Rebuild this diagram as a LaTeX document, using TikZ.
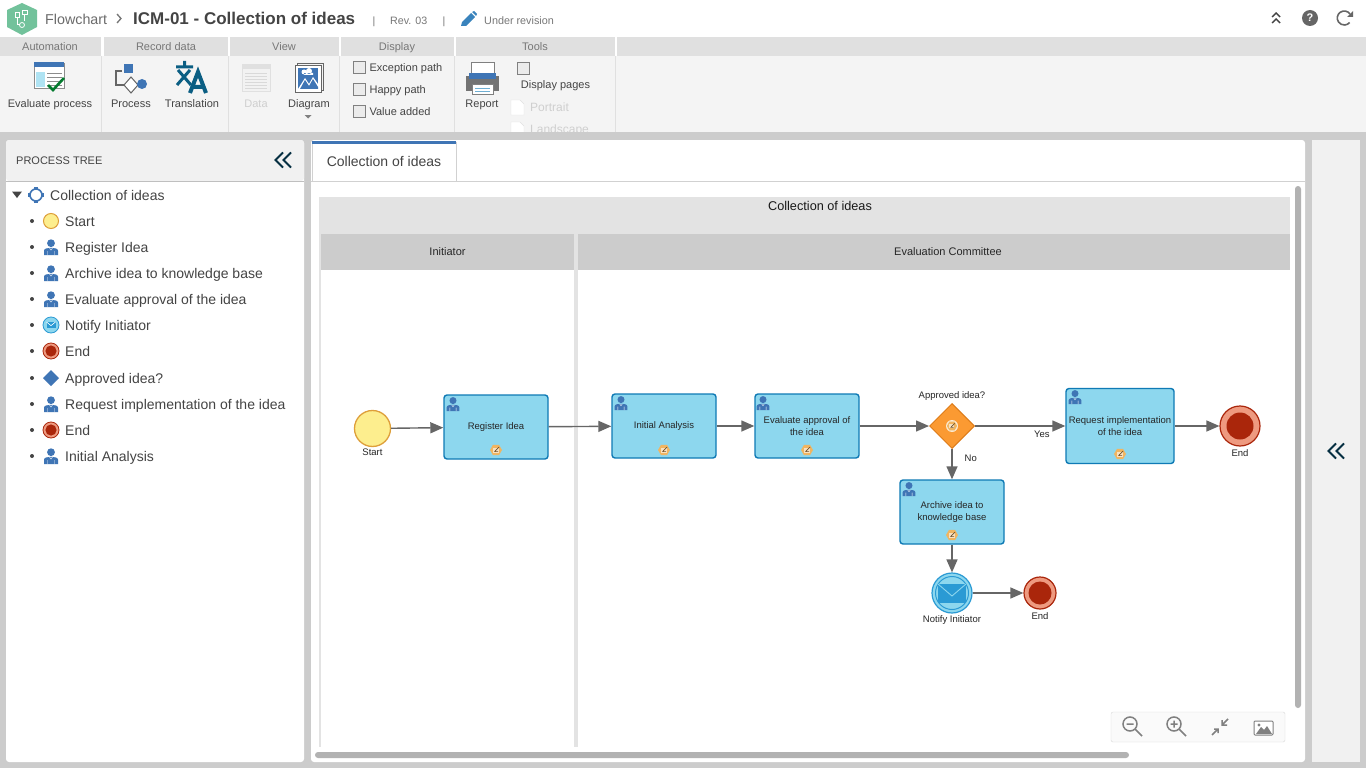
\documentclass[tikz,border=0pt]{standalone}
\usepackage{fontspec}
\setmainfont{Liberation Sans}
\usetikzlibrary{arrows.meta,positioning,shapes.geometric}
\definecolor{pagegrey}{HTML}{CCCCCC}
\definecolor{stripgrey}{HTML}{E0E0E0}
\definecolor{ribbongrey}{HTML}{F4F4F4}
\definecolor{panelgrey}{HTML}{F1F1F1}
\definecolor{poolgrey}{HTML}{E3E3E3}
\definecolor{inktext}{HTML}{444444}
\definecolor{fadetext}{HTML}{777777}
\definecolor{mutetext}{HTML}{CFCFCF}
\definecolor{iconblue}{HTML}{3F75B5}
\definecolor{teal}{HTML}{0B5E83}
\definecolor{taskfill}{HTML}{8DD7EE}
\definecolor{taskline}{HTML}{0F7AB5}
\definecolor{mailblue}{HTML}{2A9AD4}
\definecolor{startfill}{HTML}{FDEE8E}
\definecolor{startline}{HTML}{DE9F3A}
\definecolor{endring}{HTML}{EE9A80}
\definecolor{endcore}{HTML}{AA260B}
\definecolor{gatefill}{HTML}{FB9A32}
\definecolor{gateline}{HTML}{DE7C18}
\definecolor{notefill}{HTML}{F0B561}
\definecolor{flowgrey}{HTML}{666666}
\definecolor{hexgreen}{HTML}{72C29B}
\begin{document}
\begin{tikzpicture}[
        x=1pt, y=-1pt,
        lbl/.style = {inner sep=0pt, text=inktext, yshift=-#1*0.19pt, font=\fontsize{#1}{#1}\selectfont, execute at begin node=\strut},
        flowtext/.style = {inner sep=0pt, align=center, text=black!85, font=\fontsize{9.5}{12}\selectfont},
        task/.style = {rectangle, rounded corners=3pt, draw=taskline, fill=taskfill, line width=1.4pt, inner sep=0pt, align=center, text=black!85, font=\fontsize{9.5}{12}\selectfont},
        startev/.style = {circle, draw=startline, fill=startfill, line width=1.3pt, inner sep=0pt},
        endev/.style = {circle, draw=endcore, fill=endring, line width=1.2pt, inner sep=0pt},
        enddot/.style = {circle, fill=endcore, inner sep=0pt},
        gate/.style = {diamond, draw=gateline, fill=gatefill, line width=1pt, inner sep=0pt, minimum width=45pt, minimum height=45pt},
        flow/.style = {draw=flowgrey, line width=1.4pt, -{Triangle[length=13pt,width=11pt]}},
        chkbox/.style = {draw=black!50, fill=black!8, inner sep=0pt, minimum size=12pt, line width=.8pt},
        pics/personmark/.style = {code={
            \fill[iconblue] (0,-3.8) circle[radius=3.9];
            \fill[iconblue] (-7,8) -- (-7,3.5) .. controls (-7,1.5) and (-3,.8) .. (0,.8) .. controls (3,.8) and (7,1.5) .. (7,3.5) -- (7,8) -- cycle;
            \draw[white,line width=.4pt] (-3.5,4) -- (-3.5,8) (3.5,4) -- (3.5,8) (-1.5,1) -- (0,3) -- (1.5,1);
        }},
        pics/notemark/.style = {code={
            \fill[notefill] (6,0) -- (3,-5.2) -- (-3,-5.2) -- (-6,0) -- (-3,5.2) -- (3,5.2) -- cycle;
            \fill[white!60!notefill] (-3.2,-2.2) rectangle (2.6,2.6);
            \draw[black!55!notefill,line width=.7pt] (-1,1) -- (3.2,-3) (-2,1.6) -- (2,1.6);
        }},
        pics/startmark/.style = {code={\draw[startline,fill=startfill,line width=1pt] (0,0) circle[radius=7.5];}},
        pics/endmark/.style = {code={
            \draw[endcore,fill=endring,line width=.8pt] (0,0) circle[radius=8];
            \fill[endcore] (0,0) circle[radius=5.6];
        }},
        pics/mailmark/.style = {code={
            \draw[mailblue,fill=taskfill,line width=.8pt] (0,0) circle[radius=8];
            \fill[mailblue] (-4.5,-3) rectangle (4.5,3);
            \draw[white,line width=.6pt] (-4.5,-3) -- (0,.6) -- (4.5,-3);
        }},
        pics/gatemark/.style = {code={\fill[iconblue] (8,0) -- (0,8) -- (-8,0) -- (0,-8) -- cycle;}},
        pics/chevrons/.style = {code={
            \draw[#1,line width=2pt] (-.5,-7.5) -- (-8,0) -- (-.5,7.5) (7.5,-7.5) -- (0,0) -- (7.5,7.5);
        }},
    ]
        % page frame
        \useasboundingbox (0,0) rectangle (1366,768);
        \fill[pagegrey] (0,0) rectangle (1366,768);
        \fill[white] (0,0) rectangle (1366,37);
        \fill[ribbongrey] (0,37) rectangle (1366,132);
        \fill[white] (0,37) rectangle (1366,56);

        % title bar
        \fill[hexgreen] (22,3) -- (37,10) -- (37,27) -- (22,35) -- (7,27) -- (7,10) -- cycle;
        \draw[white,line width=.8pt] (15,12) rectangle (19,17) (22,10) rectangle (27,14) (24,14) -- (24,21) (17,17) -- (17,24) -- (20,24);
        \draw[white,line width=.8pt] (22,25) circle[radius=2.5];
        \node[lbl=14.3,anchor=west,text=fadetext!90!black] (crumb) at (45,19) {Flowchart};
        \draw[fadetext,line width=1.3pt] (117,14) -- (121,18.5) -- (117,23);
        \node[lbl=17,anchor=west,font=\fontsize{17}{17}\bfseries\selectfont] (doctitle) at (133,18) {ICM-01 - Collection of ideas};
        \node[lbl=10.5,text=fadetext] (barone) at (374,20) {|};
        \node[lbl=10.7,text=fadetext,anchor=west] (revno) at (390,20) {Rev. 03};
        \node[lbl=10.5,text=fadetext] (bartwo) at (444,20) {|};
        \fill[iconblue!90!cyan] (461,26) -- (462,22) -- (471,13) -- (475,17) -- (466,26) -- cycle (472,12) -- (474,11) -- (477,14) -- (476,16) -- cycle;
        \node[lbl=10.8,text=fadetext,anchor=west] (status) at (484,20) {Under revision};
        \draw[inktext,line width=1.4pt] (1272,17) -- (1276,13) -- (1280,17) (1272,23) -- (1276,19) -- (1280,23);
        \node[circle,fill=black!60,inner sep=0pt,minimum size=16pt,text=white,font=\fontsize{11}{11}\bfseries\selectfont] (helpdot) at (1310,18) {?};
        \draw[black!60,line width=1.6pt] (1350,14) arc[start angle=-35,end angle=-320,radius=7];
        \fill[black!60] (1347,17) -- (1353,17) -- (1353,11) -- cycle;

        % ribbon strips
        \foreach \xa/\xb/\xc/\cap [count=\n] in {0/101/50/Automation, 104/228/166/Record data, 230/339/284/View, 341/454/397/Display, 456/615/535/Tools} {
            \fill[stripgrey] (\xa,37) rectangle (\xb,56);
            \draw[black!12] (\xb,56) -- (\xb,132);
            \node[lbl=11,text=fadetext] (strip\n) at (\xc,46) {\cap};
        }
        \fill[stripgrey] (617,37) rectangle (1366,56);

        % ribbon icons
        \draw[black!45,fill=white] (34,63) rectangle (64,88);
        \fill[iconblue] (34,62) rectangle (64,67);
        \fill[taskfill!70] (36,72) rectangle (45,87);
        \foreach \yy in {73,77,81,85} \draw[black!45] (47,\yy) -- (62,\yy);
        \draw[teal!50!green!70!black,line width=2.6pt] (48,85) -- (53,90) -- (64,78);
        \draw[black!60,line width=2pt] (122,71) -- (116,71) -- (116,85) -- (124,85);
        \fill[iconblue] (124,64) rectangle (133,73);
        \draw[black!60,fill=white,line width=1pt] (124,85) -- (131,77) -- (138,85) -- (131,93) -- cycle;
        \fill[iconblue] (142,84) circle[radius=5];
        \draw[teal,line width=3pt] (176,67) -- (193,67) (184.5,61) -- (184.5,67) (178,70) -- (191,85) (190,70) -- (177,85);
        \draw[teal,line width=4pt] (190,93) -- (198,72) -- (206,93) (193,87) -- (203,87);
        \draw[black!12,fill=black!5] (242,64) rectangle (270,91);
        \fill[black!12] (242,64) rectangle (270,69);
        \foreach \yy in {73,76,79,82,85,88} \draw[black!15] (245,\yy) -- (267,\yy);
        \draw[black!60] (297,63) rectangle (323,90);
        \draw[black!60,fill=white] (295,65) rectangle (321,92);
        \fill[iconblue] (298,68) rectangle (318,89);
        \fill[white] (298,89) -- (305,78) -- (309,84) -- (313,77) -- (318,84) -- (318,89) -- cycle;
        \fill[iconblue] (300,89) -- (305,80) -- (309,86) -- (313,79) -- (318,87) -- (318,89) -- cycle;
        \fill[white] (304,72) circle[radius=2.5] (309,71) circle[radius=3] (304,73) rectangle (313,75);
        \fill[black!55] (466,76) rectangle (499,91);
        \draw[black!50,fill=white,line width=1pt] (471,63) rectangle (494,76);
        \fill[iconblue] (469,73) rectangle (496,79);
        \draw[black!50,fill=white,line width=1pt] (472,85) rectangle (493,95);
        \draw[taskline!60] (475,88) -- (490,88) (475,91) -- (490,91);
        \fill[black!50] (304.5,115) -- (311.5,115) -- (308,118.5) -- cycle;
        \draw[black!12,fill=white] (511,100) -- (520,100) -- (524,104) -- (524,115) -- (511,115) -- cycle;
        \draw[black!12,fill=white] (511,122) -- (520,122) -- (524,126) -- (524,137) -- (511,137) -- cycle;

        % ribbon captions
        \node[lbl=11] (capeval) at (50,103) {Evaluate process};
        \node[lbl=11] (capproc) at (131,103) {Process};
        \node[lbl=11] (captrans) at (192,103) {Translation};
        \node[lbl=11,text=mutetext] (capdata) at (256,103) {Data};
        \node[lbl=11] (capdiag) at (309,103) {Diagram};
        \node[lbl=11] (capreport) at (482,103) {Report};
        \foreach \yy/\cap [count=\n] in {67/Exception path, 89/Happy path, 111/Value added} {
            \node[chkbox] (chk\n) at (359,\yy) {};
            \node[lbl=11,anchor=west,right=4pt of chk\n] (chklbl\n) {\cap};
        }
        \node[chkbox] (chkpages) at (523,68) {};
        \node[lbl=11] (cappages) at (555.5,84) {Display pages};
        \node[lbl=12,text=mutetext,anchor=west] (capport) at (530,107) {Portrait};
        \node[lbl=12,text=mutetext,anchor=west] (capland) at (530,129) {Landscape};
        \fill[pagegrey] (0,132) rectangle (1366,140);

        % process tree panel
        \fill[white,rounded corners=3pt] (6,140) rectangle (304,762);
        \fill[panelgrey,rounded corners=3pt] (6,140) -- (6,181) -- (304,181) -- (304,140) -- cycle;
        \draw[black!25] (6,181) -- (304,181);
        \node[lbl=11,anchor=west] (treehead) at (16,160) {PROCESS TREE};
        \pic at (283.5,160) {chevrons={teal!50!black}};
        \fill[inktext] (12,191.5) -- (22,191.5) -- (17,198) -- cycle;
        \draw[iconblue,line width=1.6pt] (36,195) circle[radius=6];
        \foreach \xx/\yy in {36/188.5,36/201.5,29.5/195,42.5/195} \fill[iconblue] (\xx-1.8,\yy-1.8) rectangle (\xx+1.8,\yy+1.8);
        \node[lbl=14,anchor=west] (treeroot) at (50,195) {Collection of ideas};
        \foreach \yy/\txt/\ic [count=\n] in {221/Start/startmark, 247/Register Idea/personmark, 273/Archive idea to knowledge base/personmark, 299/Evaluate approval of the idea/personmark, 325/Notify Initiator/mailmark, 351/End/endmark, 378/Approved idea?/gatemark, 404/Request implementation of the idea/personmark, 430/End/endmark, 456/Initial Analysis/personmark} {
            \fill[inktext] (32,\yy) circle[radius=2];
            \pic at (51,\yy) {\ic};
            \node[lbl=14,anchor=west] (treerow\n) at (65,\yy) {\txt};
        }

        % main panel
        \fill[white,rounded corners=3pt] (311,140) rectangle (1305,762);
        \draw[black!18] (311,181) -- (1305,181);
        \draw[black!18,fill=white] (312,181) -- (312,142) -- (456,142) -- (456,181);
        \fill[iconblue] (312,141) rectangle (456,144);
        \node[lbl=14] (tabcap) at (384,161) {Collection of ideas};
        \fill[panelgrey] (1312,140) rectangle (1360,762);
        \pic at (1336.5,451) {chevrons={teal!50!black}};

        % pool and lanes
        \fill[poolgrey] (319,197) rectangle (1290,234);
        \fill[poolgrey] (319,234) rectangle (321,747);
        \fill[poolgrey] (574,234) rectangle (578,747);
        \fill[pagegrey] (321,234) rectangle (574,270);
        \fill[pagegrey] (578,234) rectangle (1290,270);
        \node[lbl=12.7,text=black!90] (pooltitle) at (820,205) {Collection of ideas};
        \node[lbl=11,text=black!85] (laneinit) at (447.5,251) {Initiator};
        \node[lbl=11,text=black!85] (lanecomm) at (948,251) {Evaluation Committee};
        \fill[black!30,rounded corners=3pt] (1295,186) rectangle (1301,708);
        \fill[black!30,rounded corners=3pt] (315,752) rectangle (1129,758);

        % flow nodes
        \node[startev,minimum size=36pt] (startnode) at (372.5,428.5) {};
        \node[task,minimum width=104pt,minimum height=64pt] (regtask) at (496,427) {Register Idea};
        \node[task,minimum width=104pt,minimum height=64pt] (inittask) at (664,426) {Initial Analysis};
        \node[task,minimum width=104pt,minimum height=64pt] (evaltask) at (807,426) {Evaluate approval of\\the idea};
        \node[gate] (approvegate) at (952,426) {};
        \node[task,minimum width=108pt,minimum height=75pt] (reqtask) at (1120,426) {Request implementation\\of the idea};
        \node[endev,minimum size=40pt] (endone) at (1240,426) {};
        \node[enddot,minimum size=27pt] (endonedot) at (endone) {};
        \node[task,minimum width=104pt,minimum height=64pt] (archtask) at (952,512) {Archive idea to\\knowledge base};
        \node[circle,draw=mailblue,fill=taskfill,line width=1.2pt,inner sep=0pt,minimum size=40pt] (notifynode) at (952,593) {};
        \node[circle,draw=mailblue,line width=1pt,inner sep=0pt,minimum size=33pt] (notifyring) at (notifynode) {};
        \node[endev,minimum size=32pt] (endtwo) at (1040,593) {};
        \node[enddot,minimum size=23pt] (endtwodot) at (endtwo) {};

        % marks on the nodes
        \fill[mailblue] (938,584) rectangle (966,603);
        \draw[taskfill,line width=.9pt] (938,584) -- (952,596) -- (966,584);
        \fill[white!70!notefill] (952,426) circle[radius=6];
        \pic[scale=.85] at (952,426) {notemark};
        \foreach \xx/\yy in {453/404,621/403,763/403,1075/397,909/489}
            \pic[scale=.9] at (\xx,\yy) {personmark};
        \foreach \xx/\yy in {496/450,664/450,807/450,1120/454,952/535}
            \pic at (\xx,\yy) {notemark};

        % flow labels
        \node[flowtext,below=2pt of startnode] (startlbl) {Start};
        \node[flowtext,above=2pt of approvegate] (gatelbl) {Approved idea?};
        \node[flowtext,below=2.5pt of endone] (endonelbl) {End};
        \node[flowtext,below=2pt of notifynode] (notifylbl) {Notify Initiator};
        \node[flowtext,below=2.5pt of endtwo] (endtwolbl) {End};

        % connectors
        \draw[flow] (startnode) -- (regtask);
        \draw[flow] (regtask) -- (inittask);
        \draw[flow] (inittask) -- (evaltask);
        \draw[flow] (evaltask) -- (approvegate);
        \draw[flow] (approvegate) -- node[flowtext,pos=.74,below=4pt] (yeslbl) {Yes} (reqtask);
        \draw[flow] (approvegate) -- node[flowtext,pos=.3,right=12pt] (nolbl) {No} (archtask);
        \draw[flow] (reqtask) -- (endone);
        \draw[flow] (archtask) -- (notifynode);
        \draw[flow] (notifynode) -- (endtwo);

        % zoom controls
        \draw[black!15,fill=black!2,rounded corners=2pt] (1111,712) rectangle (1285,742);
        \draw[black!50,line width=1.5pt] (1130,724) circle[radius=7] (1135,729) -- (1142,736) (1126.5,724) -- (1133.5,724);
        \draw[black!50,line width=1.5pt] (1174,724) circle[radius=7] (1179,729) -- (1186,736) (1170.5,724) -- (1177.5,724) (1174,720.5) -- (1174,727.5);
        \draw[black!50,line width=1.5pt] (1212,735) -- (1217,730) (1214,729) -- (1218,729) -- (1218,733) (1228,719) -- (1223,724) (1222,720) -- (1222,725) -- (1227,725);
        \draw[black!50,line width=1pt,rounded corners=1pt,fill=white] (1254,721) rectangle (1273,735);
        \fill[black!50] (1256,734) -- (1261,727) -- (1264,730) -- (1267,726) -- (1272,734) -- cycle (1259,725) circle[radius=1.6];
    \end{tikzpicture}
\end{document}
